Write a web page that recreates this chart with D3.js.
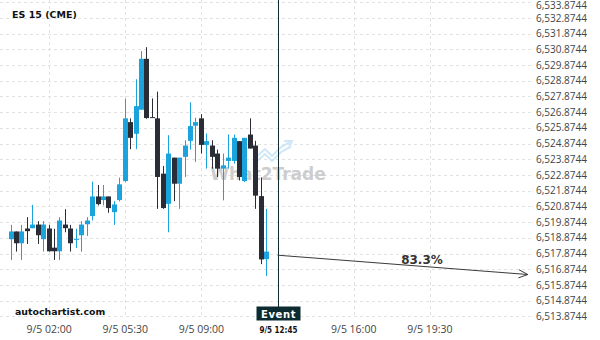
<!DOCTYPE html>
<html>
<head>
<meta charset="utf-8">
<script src="https://cdn.jsdelivr.net/npm/d3@7"></script>
<style>
  html, body { margin: 0; padding: 0; background: #fff; }
  svg { display: block; }
</style>
</head>
<body>
<div id="chart"></div>
<script>
// 15 min candles, index 0 .. 47
const opens  = [6518.79, 6519.28, 6518.53, 6519.47, 6519.49, 6519.72, 6518.79, 6519.47, 6518.25, 6518.02,
                6519.72, 6519.47, 6518.76, 6519.04, 6519.74, 6520.26, 6521.51, 6521.28, 6521.51, 6520.51,
                6521.28, 6522.49, 6526.24, 6525.50, 6527.03, 6530.27, 6526.56, 6526.48, 6522.96, 6521.04,
                6523.98, 6522.32, 6524.03, 6525.05, 6526.01, 6526.48, 6524.79, 6524.75, 6524.24, 6523.28,
                6523.77, 6523.77, 6525.03, 6522.49, 6525.45, 6524.75, 6521.53, 6517.52];
const highs  = [6519.70, 6519.28, 6519.70, 6520.19, 6520.98, 6519.94, 6519.94, 6519.70, 6519.45, 6520.19,
                6520.70, 6519.70, 6519.45, 6519.94, 6520.19, 6522.45, 6522.24, 6522.24, 6521.51, 6521.21,
                6522.71, 6527.73, 6526.48, 6528.97, 6530.76, 6531.01, 6527.75, 6528.18, 6523.45, 6525.41,
                6523.98, 6523.98, 6525.09, 6527.50, 6526.52, 6526.75, 6525.52, 6525.09, 6524.49, 6524.24,
                6525.45, 6525.45, 6525.03, 6525.24, 6526.48, 6525.05, 6522.72, 6520.72];
const lows   = [6517.47, 6518.00, 6517.47, 6518.49, 6519.49, 6518.49, 6518.00, 6518.00, 6517.47, 6517.47,
                6519.23, 6518.00, 6518.23, 6518.00, 6519.00, 6519.98, 6520.94, 6520.94, 6520.47, 6519.70,
                6521.19, 6522.41, 6524.52, 6524.52, 6527.03, 6526.45, 6526.52, 6520.72, 6520.72, 6519.23,
                6521.21, 6520.72, 6522.75, 6524.49, 6523.71, 6524.24, 6523.28, 6523.28, 6522.75, 6521.26,
                6523.28, 6523.60, 6522.53, 6522.43, 6524.56, 6520.72, 6517.20, 6516.44];
const closes = [6519.28, 6518.53, 6519.28, 6519.30, 6519.72, 6519.04, 6519.72, 6518.02, 6518.02, 6519.98,
                6519.49, 6518.53, 6518.81, 6519.72, 6519.98, 6521.51, 6521.02, 6521.51, 6520.77, 6521.00,
                6522.28, 6526.48, 6525.24, 6527.26, 6530.27, 6526.50, 6526.52, 6522.75, 6520.77, 6524.24,
                6522.32, 6523.98, 6524.75, 6525.99, 6526.24, 6524.79, 6525.03, 6524.03, 6523.28, 6523.49,
                6523.98, 6525.24, 6522.75, 6525.24, 6524.56, 6521.56, 6517.50, 6518.00];

const tickIdx    = [7, 21, 35, 63, 77];
const tickLabels = ["9/5 02:00", "9/5 05:30", "9/5 09:00", "9/5 16:00", "9/5 19:30"];
const eventIdx   = 49;
const eventLabel = "9/5 12:45";

// forecast arrow [index, price]
const arrowFrom = [49, 6517.77];
const arrowTo   = [95, 6516.54];
const arrowText = "83.3%";

const priceMin = 6513.8744, priceMax = 6533.8744;

const W = 600, H = 340;
const blue = "#1ba3de", dark = "#2b2d36";

const svg = d3.select("#chart").append("svg")
  .attr("width", W).attr("height", H)
  .style("font-family", "'Open Sans', sans-serif");

const x = d3.scaleLinear().domain([0, 95]).range([11, 527.8]);
const y = d3.scaleLinear().domain([priceMin, priceMax]).range([316.4, 2.2]);

// grid
const priceTicks = d3.range(0, 21).map(i => priceMin + i);
svg.append("g").selectAll("line").data(priceTicks).join("line")
  .attr("x1", 0).attr("x2", 534)
  .attr("y1", d => Math.round(y(d)) + 0.5).attr("y2", d => Math.round(y(d)) + 0.5)
  .attr("stroke", "#e2e2e2").attr("stroke-dasharray", "3,3");

svg.append("g").selectAll("line").data(tickIdx.concat([eventIdx])).join("line")
  .attr("x1", d => Math.round(x(d)) + 0.5).attr("x2", d => Math.round(x(d)) + 0.5)
  .attr("y1", 0).attr("y2", 318)
  .attr("stroke", "#e2e2e2").attr("stroke-dasharray", "3,3");

// price labels
svg.append("g").selectAll("text").data(priceTicks).join("text")
  .attr("x", 536).attr("y", d => Math.max(8.5, y(d) + 3.6))
  .attr("font-size", 10).attr("fill", "#444")
  .text(d3.format(",.4f"));

// watermark
const wm = svg.append("g");
wm.append("text")
  .attr("x", 268).attr("y", 179.5).attr("text-anchor", "middle")
  .attr("font-family", "'DejaVu Sans', sans-serif").attr("font-weight", "bold")
  .attr("font-size", 17).attr("fill", "#cdcdcd")
  .text("What2Trade");
const zig = [[256, 157], [265, 149], [272, 156], [281, 147], [291, 141.5]];
[0, 5].forEach(off => {
  wm.append("path")
    .attr("d", d3.line()(zig.map(p => [p[0], p[1] + off])))
    .attr("fill", "none").attr("stroke", "#cfe7f6").attr("stroke-width", 2);
});
wm.append("path").attr("d", "M284,141 L292,141 L289,148")
  .attr("fill", "none").attr("stroke", "#cfe7f6").attr("stroke-width", 2);

// candles
const candles = svg.append("g").selectAll("g").data(opens).join("g");
candles.each(function(o, i) {
  const g = d3.select(this);
  const c = closes[i];
  const col = c >= o ? blue : dark;
  const xc = Math.floor(x(i));
  g.append("rect")
    .attr("x", xc).attr("width", 1)
    .attr("y", y(highs[i])).attr("height", Math.max(1, y(lows[i]) - y(highs[i])))
    .attr("fill", col);
  const top = y(Math.max(o, c)), bot = y(Math.min(o, c));
  g.append("rect")
    .attr("x", xc - 2).attr("width", 5)
    .attr("y", top).attr("height", Math.max(1, bot - top))
    .attr("fill", col);
});

// event line + box
const ex = Math.round(x(eventIdx)) + 0.5;
svg.append("line")
  .attr("x1", ex).attr("x2", ex).attr("y1", 0).attr("y2", 307)
  .attr("stroke", "#0e2a30").attr("stroke-width", 1);
svg.append("rect")
  .attr("x", ex - 22).attr("y", 306.5).attr("width", 44).attr("height", 14)
  .attr("fill", "#0c2b31");
svg.append("text")
  .attr("x", ex).attr("y", 317.5).attr("text-anchor", "middle")
  .attr("font-family", "'DejaVu Sans', sans-serif").attr("font-weight", "bold")
  .attr("font-size", 10).attr("fill", "#fff").attr("letter-spacing", 0.6)
  .text("Event");

// time labels
svg.append("g").selectAll("text").data(tickIdx).join("text")
  .attr("x", d => x(d)).attr("y", 333).attr("text-anchor", "middle")
  .attr("font-size", 10.5).attr("fill", "#444")
  .text((d, i) => tickLabels[i]);
svg.append("text")
  .attr("x", ex).attr("y", 333).attr("text-anchor", "middle")
  .attr("font-family", "'DejaVu Sans Condensed', 'DejaVu Sans', sans-serif")
  .attr("font-weight", "bold").attr("font-size", 9.5).attr("fill", "#111")
  .attr("textLength", 38).attr("lengthAdjust", "spacingAndGlyphs")
  .text(eventLabel);

// forecast arrow
const ax1 = x(arrowFrom[0]), ay1 = y(arrowFrom[1]);
const ax2 = x(arrowTo[0]), ay2 = y(arrowTo[1]);
svg.append("line")
  .attr("x1", ax1).attr("y1", ay1).attr("x2", ax2).attr("y2", ay2)
  .attr("stroke", "#3a3a3a").attr("stroke-width", 1);
const ang = Math.atan2(ay2 - ay1, ax2 - ax1);
const hl = 10, hw = 0.42;
svg.append("path")
  .attr("d", `M${ax2 - hl * Math.cos(ang - hw)},${ay2 - hl * Math.sin(ang - hw)} L${ax2},${ay2} L${ax2 - hl * Math.cos(ang + hw)},${ay2 - hl * Math.sin(ang + hw)}`)
  .attr("fill", "none").attr("stroke", "#3a3a3a").attr("stroke-width", 1);
svg.append("text")
  .attr("x", 422).attr("y", 263.5).attr("text-anchor", "middle")
  .attr("font-family", "'DejaVu Sans', sans-serif").attr("font-weight", "bold")
  .attr("font-size", 12).attr("fill", "#333")
  .text(arrowText);

// titles
svg.append("text")
  .attr("x", 12).attr("y", 18.3)
  .attr("font-family", "'DejaVu Sans', sans-serif").attr("font-weight", "bold")
  .attr("font-size", 9.5).attr("fill", "#111")
  .text("ES 15 (CME)");
svg.append("text")
  .attr("x", 15).attr("y", 314.5)
  .attr("font-family", "'DejaVu Sans', sans-serif").attr("font-weight", "bold")
  .attr("font-size", 9.4).attr("fill", "#111")
  .text("autochartist.com");
</script>
</body>
</html>
